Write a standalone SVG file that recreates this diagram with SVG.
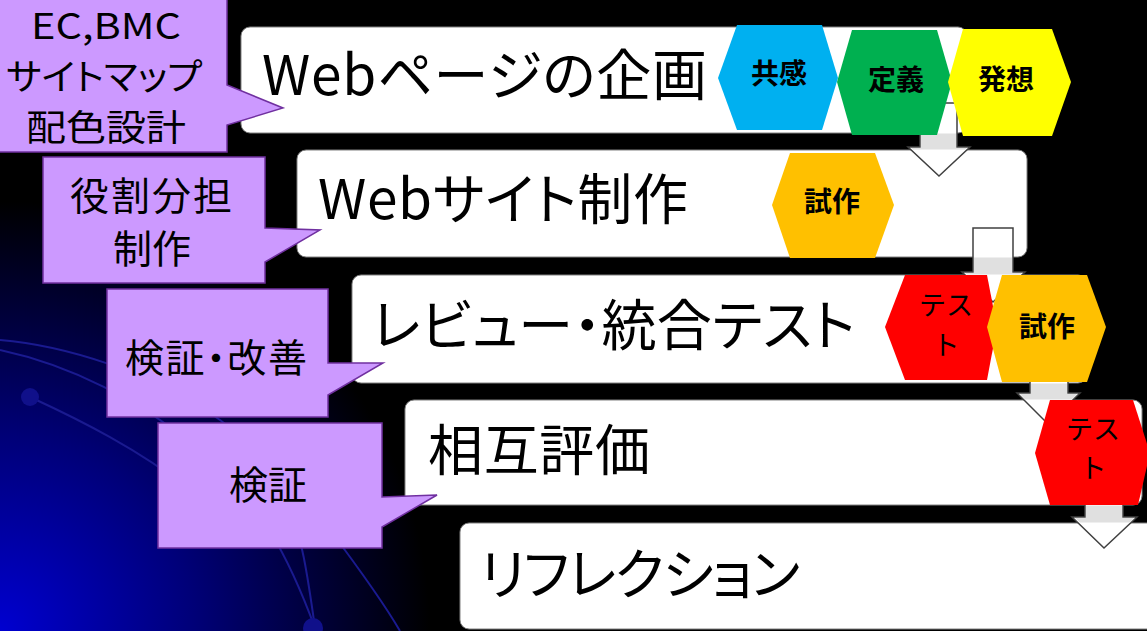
<svg xmlns="http://www.w3.org/2000/svg" width="1147" height="631" viewBox="0 0 1147 631">
<defs>
<radialGradient id="bg" cx="0" cy="631" r="430" gradientUnits="userSpaceOnUse">
<stop offset="0" stop-color="#0000d0"/>
<stop offset="0.45" stop-color="#000078"/>
<stop offset="1" stop-color="#000000"/>
</radialGradient>
<style>
.box{fill:#ffffff;stroke:#808080;stroke-width:1}
.main{font-family:"Noto Sans CJK JP","Noto Sans",sans-serif;font-size:55px;fill:#000;font-feature-settings:"palt"}
.call{fill:#cc99ff;stroke:#7030a0;stroke-width:1.5}
.ct{font-family:"Noto Sans CJK JP","Noto Sans",sans-serif;font-size:39px;fill:#000;text-anchor:middle;font-feature-settings:"palt"}
.ct1{font-size:36px}
.hl{font-family:"Noto Sans CJK JP",sans-serif;font-size:28px;font-weight:bold;fill:#000;text-anchor:middle}
.ht{font-family:"Noto Sans CJK JP",sans-serif;font-size:27px;fill:#000;text-anchor:middle}
.arr{fill:#ffffff;stroke:#404040;stroke-width:1.5;stroke-linejoin:miter}
.sh{fill:#e0e0e0}
.deco{fill:none;stroke:#1a1a90;stroke-width:2}
.dot{fill:#10108a}
</style>
</defs>
<rect width="1147" height="631" fill="#000"/>
<rect width="1147" height="631" fill="url(#bg)"/>
<g id="decoration">
<path class="deco" d="M0,340 C60,345 150,370 220,420 S300,520 315,628"/>
<path class="deco" d="M0,350 C70,365 140,400 200,450 S290,560 315,628"/>
<path class="deco" d="M30,397 C80,420 140,450 190,490"/>
<path class="deco" d="M330,530 C360,570 385,605 400,631"/>
<circle class="dot" cx="30" cy="397" r="9"/>
<circle class="dot" cx="313" cy="628" r="10"/>
</g>
<g id="step1">
<rect class="box" x="241" y="27" width="726" height="106" rx="9"/>
<text class="main" x="262" y="95" textLength="445" lengthAdjust="spacing">Webページの企画</text>
</g>
<g id="step2">
<rect class="box" x="297" y="150" width="730" height="107" rx="9"/>
<text class="main" x="318" y="219" textLength="370" lengthAdjust="spacing">Webサイト制作</text>
</g>
<g id="step3">
<rect class="box" x="352" y="275" width="735" height="108" rx="9"/>
<text class="main" x="372" y="345" textLength="483" lengthAdjust="spacing">レビュー・統合テスト</text>
</g>
<g id="step4">
<rect class="box" x="405" y="400" width="737" height="105" rx="9"/>
<text class="main" x="428" y="470" textLength="222" lengthAdjust="spacing">相互評価</text>
</g>
<g id="step5">
<rect class="box" x="460" y="523" width="720" height="106" rx="9"/>
<text class="main" x="480" y="594" textLength="320" lengthAdjust="spacing">リフレクション</text>
</g>
<g id="connectors">
<polygon class="arr" points="920,103 957,103 957,147 970,147 939,176 908,147 920,147"/>
<polygon class="sh" points="921,133.5 956,133.5 956,148 967,148 965,149.5 913,149.5 911,148 921,148"/>
<polygon class="arr" points="973,228 1013,228 1013,272 1025,272 993,302 962,272 973,272"/>
<polygon class="sh" points="974,257.5 1012,257.5 1012,273 1022,273 1020,274.5 967,274.5 965,273 974,273"/>
<polygon class="arr" points="1030,330 1068,330 1068,393 1080,393 1048,424 1017,393 1030,393"/>
<polygon class="sh" points="1031,383.5 1067,383.5 1067,394 1077,394 1072,399.5 1025,399.5 1020,394 1031,394"/>
<polygon class="arr" points="1085,455 1123,455 1123,517 1137,517 1104,548 1072,517 1085,517"/>
<polygon class="sh" points="1086,505.5 1122,505.5 1122,518 1134,518 1130,522.5 1080,522.5 1075,518 1086,518"/>
</g>
<g id="hex-empathy">
<polygon fill="#00b0f0" points="718,78 737,25 822,25 838,78 822,130 737,130"/>
<text class="hl" x="779" y="84">共感</text>
</g>
<g id="hex-define">
<polygon fill="#00b050" points="837,82 852,30 937,30 952,82 937,135 852,135"/>
<text class="hl" x="896" y="90">定義</text>
</g>
<g id="hex-ideate">
<polygon fill="#ffff00" points="948,82 963,29 1052,29 1071,82 1052,136 963,136"/>
<text class="hl" x="1006" y="90">発想</text>
</g>
<g id="hex-proto1">
<polygon fill="#ffc000" points="772,205 790,153 875,153 894,205 875,258 790,258"/>
<text class="hl" x="832" y="212">試作</text>
</g>
<g id="hex-test1">
<polygon fill="#ff0000" points="885,327 905,275 987,275 997,327 987,380 905,380"/>
<text class="ht" x="946" y="315">テス</text>
<text class="ht" x="946" y="355">ト</text>
</g>
<g id="hex-proto2">
<polygon fill="#ffc000" points="987,327 1002,275 1087,275 1106,327 1087,382 1002,382"/>
<text class="hl" x="1047" y="337">試作</text>
</g>
<g id="hex-test2">
<polygon fill="#ff0000" points="1035,453 1050,400 1133,400 1150,453 1138,505 1050,505"/>
<text class="ht" x="1093" y="439">テス</text>
<text class="ht" x="1093" y="478">ト</text>
</g>
<g id="callout1">
<path class="call" d="M-5,-5 H227 V85 L283,108 L227,125 V152 H-5 Z"/>
<text class="ct ct1" x="106" y="39" textLength="150" lengthAdjust="spacingAndGlyphs">EC,BMC</text>
<text class="ct ct1" x="104" y="90" textLength="196" lengthAdjust="spacingAndGlyphs">サイトマップ</text>
<text class="ct ct1" x="106" y="141" textLength="160" lengthAdjust="spacingAndGlyphs">配色設計</text>
</g>
<g id="callout2">
<path class="call" d="M43,157 H265 V228 L320,230 L265,262 V283 H43 Z"/>
<text class="ct" x="151" y="210" textLength="162" lengthAdjust="spacing">役割分担</text>
<text class="ct" x="152" y="263">制作</text>
</g>
<g id="callout3">
<path class="call" d="M107,289 H328 V363 L383,363 L328,395 V417 H107 Z"/>
<text class="ct" x="216" y="372" textLength="182" lengthAdjust="spacing">検証・改善</text>
</g>
<g id="callout4">
<path class="call" d="M158,423 H382 V497 L437,495 L382,527 V548 H158 Z"/>
<text class="ct" x="268" y="499">検証</text>
</g>
</svg>
